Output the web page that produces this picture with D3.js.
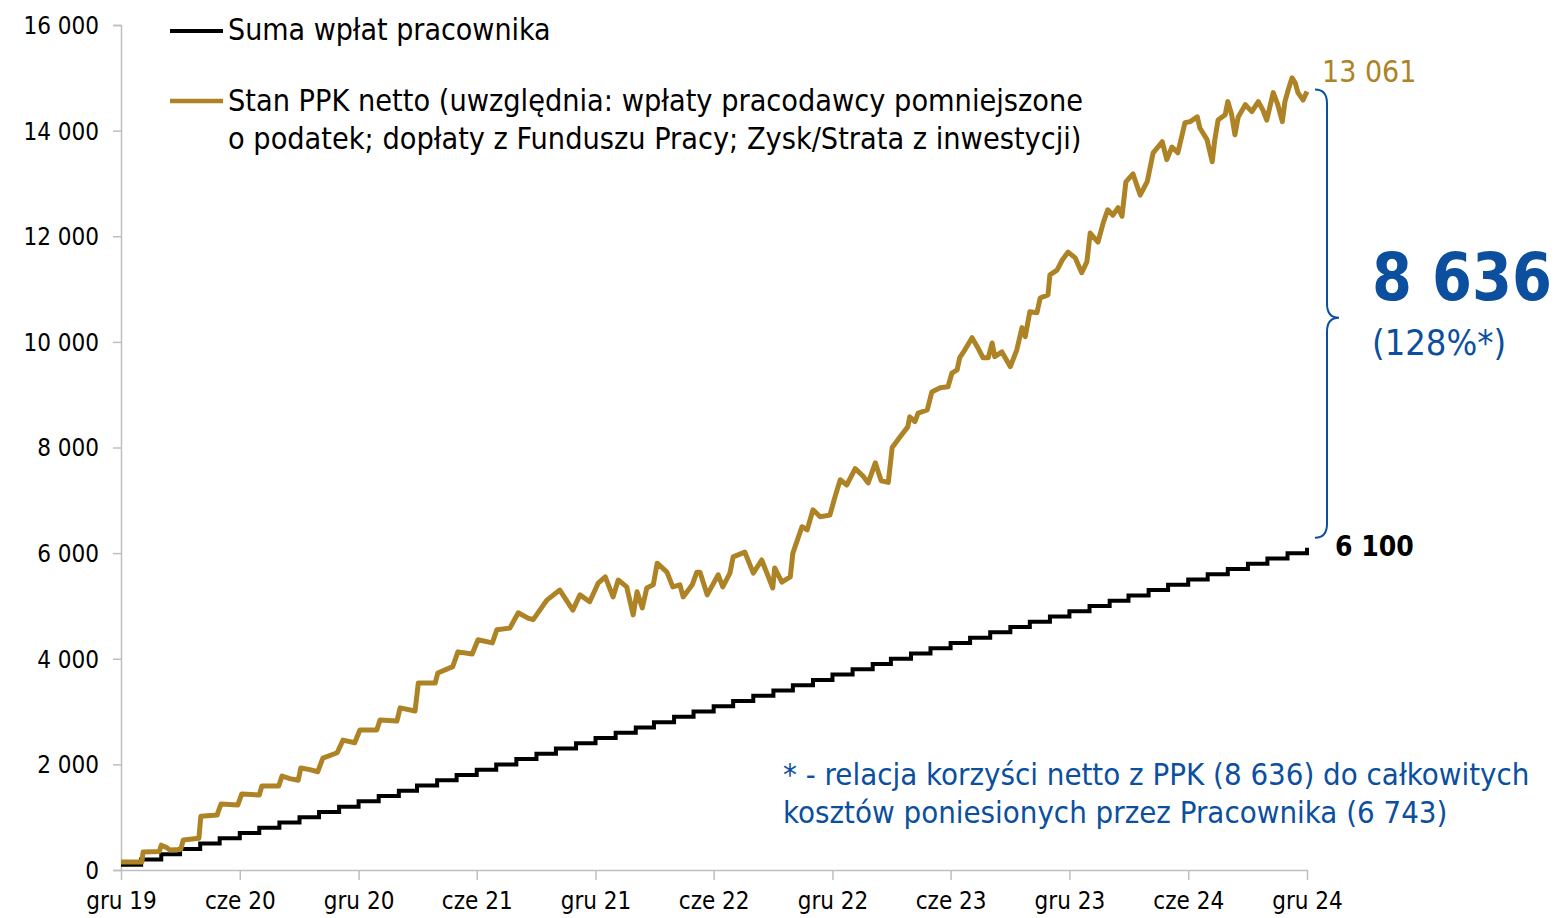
<!DOCTYPE html>
<meta charset="utf-8">
<style>
body { margin: 0; background: #fff; }
svg text { font-family: "Liberation Sans Narrow", "DejaVu Sans Condensed", "Roboto", sans-serif; }
.axis path, .axis line { stroke: #bfbfbf; stroke-width: 1.5px; }
</style>
<body>
<div id="chart"></div>
<script src="https://d3js.org/d3.v7.min.js"></script>
<script>

var width = 1558,
    height = 918;

var yTicks = [0, 2000, 4000, 6000, 8000, 10000, 12000, 14000, 16000];
var xTickDates = ["2019-12-01", "2020-06-01", "2020-12-01", "2021-06-01", "2021-12-01",
  "2022-06-01", "2022-12-01", "2023-06-01", "2023-12-01", "2024-06-01", "2024-12-01"];
var xTickLabels = ["gru 19", "cze 20", "gru 20", "cze 21", "gru 21", "cze 22",
  "gru 22", "cze 23", "gru 23", "cze 24", "gru 24"];

// suma wplat pracownika - miesiecznie
var employeeMonths = ["2019-12", "2020-01", "2020-02", "2020-03", "2020-04", "2020-05", "2020-06",
  "2020-07", "2020-08", "2020-09", "2020-10", "2020-11", "2020-12", "2021-01", "2021-02", "2021-03",
  "2021-04", "2021-05", "2021-06", "2021-07", "2021-08", "2021-09", "2021-10", "2021-11", "2021-12",
  "2022-01", "2022-02", "2022-03", "2022-04", "2022-05", "2022-06", "2022-07", "2022-08", "2022-09",
  "2022-10", "2022-11", "2022-12", "2023-01", "2023-02", "2023-03", "2023-04", "2023-05", "2023-06",
  "2023-07", "2023-08", "2023-09", "2023-10", "2023-11", "2023-12", "2024-01", "2024-02", "2024-03",
  "2024-04", "2024-05", "2024-06", "2024-07", "2024-08", "2024-09", "2024-10", "2024-11", "2024-12"];
var employeeValues = [100, 200, 300, 400, 500, 600, 700, 800, 900, 1000, 1100, 1200, 1300, 1400,
  1500, 1600, 1700, 1800, 1900, 2000, 2100, 2200, 2300, 2400, 2500, 2600, 2700, 2800, 2900, 3000,
  3100, 3200, 3300, 3400, 3500, 3600, 3700, 3800, 3900, 4000, 4100, 4200, 4300, 4400, 4500, 4600,
  4700, 4800, 4900, 5000, 5100, 5200, 5300, 5400, 5500, 5600, 5700, 5800, 5900, 6000, 6100];

// stan PPK netto
var ppkDates = ["2019-12-01", "2020-01-02", "2020-01-04", "2020-01-29", "2020-02-01", "2020-02-10",
  "2020-02-14", "2020-03-02", "2020-03-06", "2020-03-30", "2020-04-02", "2020-04-27", "2020-05-03",
  "2020-05-29", "2020-06-04", "2020-07-01", "2020-07-05", "2020-07-31", "2020-08-05", "2020-08-17",
  "2020-08-30", "2020-09-03", "2020-09-17", "2020-09-29", "2020-10-07", "2020-10-29", "2020-11-07",
  "2020-11-25", "2020-12-03", "2020-12-29", "2021-01-03", "2021-01-29", "2021-02-03", "2021-02-26",
  "2021-03-03", "2021-03-29", "2021-04-02", "2021-04-25", "2021-05-03", "2021-05-25", "2021-06-03",
  "2021-06-25", "2021-07-02", "2021-07-22", "2021-08-04", "2021-08-19", "2021-08-27", "2021-09-17",
  "2021-10-07", "2021-10-27", "2021-11-07", "2021-11-22", "2021-12-05", "2021-12-16", "2021-12-28",
  "2022-01-05", "2022-01-18", "2022-01-28", "2022-02-03", "2022-02-11", "2022-02-18", "2022-02-28",
  "2022-03-06", "2022-03-21", "2022-03-30", "2022-04-10", "2022-04-15", "2022-04-29", "2022-05-06",
  "2022-05-11", "2022-05-22", "2022-06-08", "2022-06-15", "2022-06-26", "2022-07-01", "2022-07-19",
  "2022-08-01", "2022-08-14", "2022-08-22", "2022-08-31", "2022-09-03", "2022-09-14", "2022-09-27",
  "2022-10-01", "2022-10-15", "2022-10-23", "2022-11-01", "2022-11-12", "2022-11-27", "2022-12-05",
  "2022-12-13", "2022-12-23", "2023-01-05", "2023-01-17", "2023-01-25", "2023-02-05", "2023-02-14",
  "2023-02-25", "2023-03-03", "2023-03-15", "2023-03-27", "2023-03-30", "2023-04-07", "2023-04-12",
  "2023-04-26", "2023-05-03", "2023-05-16", "2023-05-28", "2023-06-03", "2023-06-11", "2023-06-15",
  "2023-06-23", "2023-07-04", "2023-07-12", "2023-07-21", "2023-07-29", "2023-08-04", "2023-08-08",
  "2023-08-19", "2023-09-01", "2023-09-11", "2023-09-19", "2023-09-24", "2023-10-01", "2023-10-12",
  "2023-10-17", "2023-10-29", "2023-11-01", "2023-11-12", "2023-11-20", "2023-11-29", "2023-12-10",
  "2023-12-20", "2023-12-28", "2024-01-02", "2024-01-14", "2024-01-22", "2024-01-29", "2024-02-06",
  "2024-02-14", "2024-02-20", "2024-02-26", "2024-03-08", "2024-03-19", "2024-03-30", "2024-04-08",
  "2024-04-22", "2024-04-29", "2024-05-07", "2024-05-16", "2024-05-27", "2024-06-04", "2024-06-15",
  "2024-06-19", "2024-06-30", "2024-07-08", "2024-07-12", "2024-07-17", "2024-07-28", "2024-08-01",
  "2024-08-07", "2024-08-12", "2024-08-17", "2024-08-28", "2024-09-07", "2024-09-17", "2024-09-24",
  "2024-09-30", "2024-10-10", "2024-10-17", "2024-10-24", "2024-10-28", "2024-11-02", "2024-11-08",
  "2024-11-13", "2024-11-17", "2024-11-25", "2024-12-01"];
var ppkValues = [150, 150, 340, 350, 470, 420, 380, 390, 570, 600, 1020, 1040, 1250, 1230, 1440,
  1420, 1590, 1590, 1780, 1730, 1700, 1930, 1900, 1860, 2120, 2220, 2460, 2410, 2650, 2650, 2840,
  2820, 3070, 3010, 3540, 3540, 3730, 3850, 4130, 4090, 4360, 4300, 4550, 4580, 4870, 4770, 4740,
  5110, 5300, 4920, 5210, 5080, 5430, 5550, 5170, 5490, 5360, 4830, 5270, 4960, 5340, 5400, 5810,
  5640, 5360, 5400, 5170, 5400, 5640, 5640, 5210, 5590, 5360, 5620, 5930, 6020, 5620, 5870, 5620,
  5340, 5720, 5450, 5550, 6000, 6500, 6440, 6820, 6690, 6720, 7070, 7390, 7290, 7600, 7460, 7330,
  7710, 7370, 7340, 8000, 8200, 8390, 8580, 8490, 8650, 8710, 9050, 9130, 9150, 9410, 9470, 9700,
  9850, 10080, 9910, 9700, 9700, 9980, 9720, 9810, 9530, 9850, 10270, 10100, 10570, 10550, 10830,
  10890, 11270, 11360, 11550, 11700, 11590, 11310, 11520, 12060, 11890, 12250, 12500, 12400, 12540,
  12380, 13030, 13180, 12780, 13040, 13580, 13790, 13450, 13690, 13580, 14150, 14170, 14260, 14050,
  13830, 13410, 13830, 14200, 14300, 14550, 14300, 13920, 14260, 14490, 14360, 14550, 14390, 14200,
  14720, 14490, 14170, 14550, 14770, 15000, 14900, 14720, 14580, 14740];

var legendLabels = ["Suma wpłat pracownika",
  ["Stan PPK netto (uwzględnia: wpłaty pracodawcy pomniejszone",
   "o podatek; dopłaty z Funduszu Pracy; Zysk/Strata z inwestycji)"]];
var ppkEndLabel = "13 061";
var employeeEndLabel = "6 100";
var gainLabel = "8 636";
var gainPctLabel = "(128%*)";
var footnote = ["* - relacja korzyści netto z PPK (8 636) do całkowitych",
  "kosztów poniesionych przez Pracownika (6 743)"];

var gold = "#ad8326",
    blue = "#0b4f9e";

var parseDay = d3.timeParse("%Y-%m-%d"),
    parseMonth = d3.timeParse("%Y-%m");

var employee = employeeMonths.map(function(m, i) { return {date: parseMonth(m), value: employeeValues[i]}; });
var ppk = ppkDates.map(function(d, i) { return {date: parseDay(d), value: ppkValues[i]}; });

var margin = {top: 25, right: 251, bottom: 48, left: 121};

var x = d3.scaleTime()
    .domain([parseDay(xTickDates[0]), parseDay(xTickDates[xTickDates.length - 1])])
    .range([margin.left, width - margin.right]);

var y = d3.scaleLinear()
    .domain([0, 16000])
    .range([height - margin.bottom, margin.top]);

var svg = d3.select("#chart").append("svg")
    .attr("width", width)
    .attr("height", height);

var fmt = function(v) { return d3.format(",")(v).replace(/,/g, " "); };

// os Y
svg.append("g")
    .attr("class", "axis")
    .attr("transform", "translate(" + margin.left + ",0)")
    .call(d3.axisLeft(y).tickValues(yTicks).tickSize(8).tickPadding(14).tickFormat(fmt))
    .call(function(g) {
      g.selectAll("text").style("font-size", "24px").attr("fill", "#000").attr("dy", "0.35em");
    });

// os X
svg.append("g")
    .attr("class", "axis")
    .attr("transform", "translate(0," + y(0) + ")")
    .call(d3.axisBottom(x).tickValues(xTickDates.map(parseDay)).tickSize(10).tickPadding(12)
      .tickSizeOuter(0)
      .tickFormat(function(d, i) { return xTickLabels[i]; }))
    .call(function(g) {
      g.selectAll("text").style("font-size", "24px").attr("fill", "#000");
    });

var line = d3.line()
    .x(function(d) { return x(d.date); })
    .y(function(d) { return y(d.value); });

// krok na koniec - ostatni punkt na koncu osi
var employeeStep = employee.concat([{date: x.domain()[1], value: employeeValues[employeeValues.length - 1]}]);

svg.append("path")
    .datum(employeeStep)
    .attr("fill", "none")
    .attr("stroke", "#000")
    .attr("stroke-width", 4)
    .attr("d", line.curve(d3.curveStepAfter));

svg.append("path")
    .datum(ppk)
    .attr("fill", "none")
    .attr("stroke", gold)
    .attr("stroke-width", 5)
    .attr("stroke-linejoin", "round")
    .attr("d", line.curve(d3.curveLinear));

// legenda
var legend = svg.append("g").attr("transform", "translate(170,0)");
legend.append("line").attr("x1", 0).attr("x2", 53).attr("y1", 31).attr("y2", 31)
    .attr("stroke", "#000").attr("stroke-width", 4);
legend.append("text").attr("x", 58).attr("y", 40).style("font-size", "30px")
    .text(legendLabels[0]);
legend.append("line").attr("x1", 0).attr("x2", 53).attr("y1", 101).attr("y2", 101)
    .attr("stroke", gold).attr("stroke-width", 4.5);
legend.append("text").attr("x", 58).attr("y", 111).style("font-size", "30.3px")
    .text(legendLabels[1][0]);
legend.append("text").attr("x", 58).attr("y", 149).style("font-size", "30.3px")
    .text(legendLabels[1][1]);

// etykiety koncowe
var lastPpk = ppk[ppk.length - 1],
    lastEmp = employeeStep[employeeStep.length - 1];

svg.append("text")
    .attr("x", x(lastPpk.date) + 15)
    .attr("y", 82)
    .attr("fill", gold)
    .style("font-size", "30px")
    .text(ppkEndLabel);

svg.append("text")
    .attr("x", x(lastEmp.date) + 28)
    .attr("y", y(lastEmp.value) + 8)
    .attr("fill", "#000")
    .style("font-size", "28px")
    .style("font-weight", "bold")
    .text(employeeEndLabel);

// klamra
var bx = x(lastPpk.date) + 8,
    braceTop = y(lastPpk.value) - 2,
    braceBottom = y(lastEmp.value) - 10,
    braceMid = (braceTop + braceBottom) / 2 + 4,
    bw = 12, br = 14;
var brace = d3.path();
brace.moveTo(bx, braceTop);
brace.quadraticCurveTo(bx + bw, braceTop, bx + bw, braceTop + br);
brace.lineTo(bx + bw, braceMid - br);
brace.quadraticCurveTo(bx + bw, braceMid, bx + 2 * bw, braceMid);
brace.quadraticCurveTo(bx + bw, braceMid, bx + bw, braceMid + br);
brace.lineTo(bx + bw, braceBottom - br);
brace.quadraticCurveTo(bx + bw, braceBottom, bx, braceBottom);
svg.append("path")
    .attr("d", brace.toString())
    .attr("fill", "none")
    .attr("stroke", blue)
    .attr("stroke-width", 2);

svg.append("text")
    .attr("x", 1372)
    .attr("y", 300)
    .attr("fill", blue)
    .style("font-size", "66px")
    .style("font-weight", "bold")
    .attr("textLength", 180)
    .attr("lengthAdjust", "spacingAndGlyphs")
    .text(gainLabel);

svg.append("text")
    .attr("x", 1372)
    .attr("y", 355)
    .attr("fill", blue)
    .style("font-size", "36px")
    .text(gainPctLabel);

svg.selectAll(".foot")
    .data(footnote)
    .enter().append("text")
    .attr("class", "foot")
    .attr("x", 783)
    .attr("y", function(d, i) { return 785 + i * 38; })
    .attr("fill", blue)
    .style("font-size", "30.9px")
    .text(function(d) { return d; });

</script>
